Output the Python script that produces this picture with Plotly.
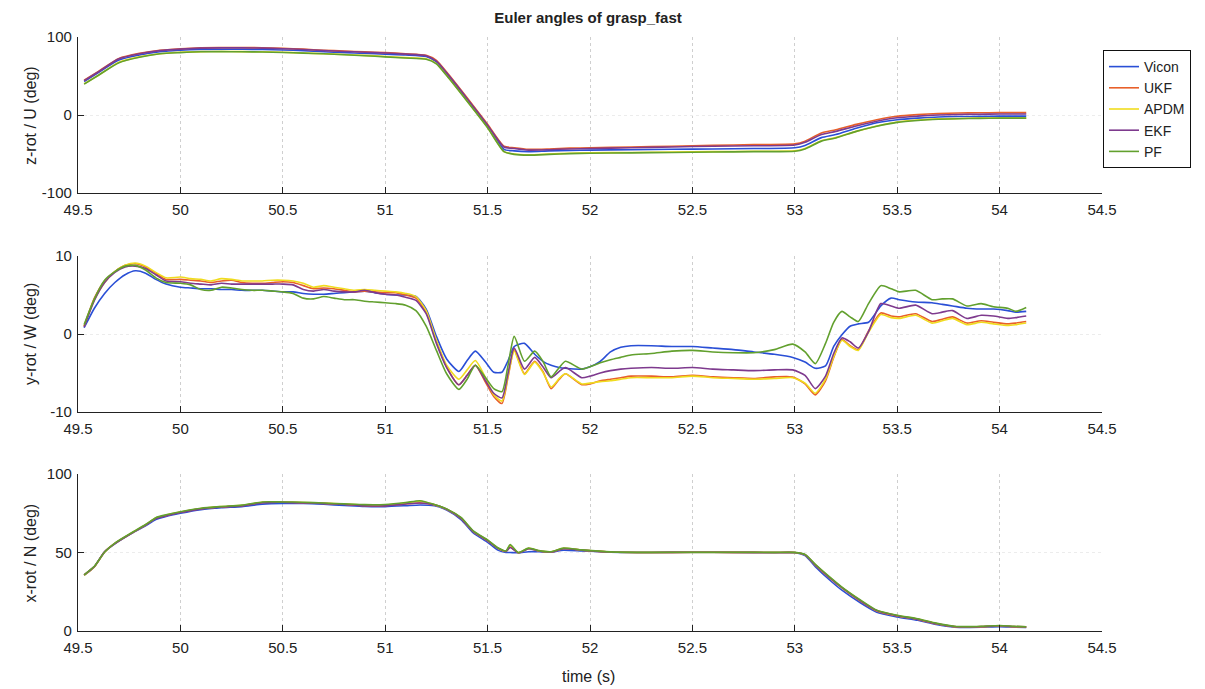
import plotly.graph_objects as go

SERIES = ["Vicon", "UKF", "APDM", "EKF", "PF"]
COLORS = ["#2a4fd6", "#e8602a", "#f0dc1e", "#7e3a8e", "#62a02e"]

# ---------------- z-rot / U ----------------
T_Z = [49.53, 49.6, 49.7, 49.8, 49.9, 50.0, 50.1, 50.2, 50.3, 50.4,
       50.5, 50.6, 50.7, 50.8, 50.9, 51.0, 51.1, 51.2, 51.25, 51.3,
       51.4, 51.5, 51.58, 51.63, 51.7, 51.8, 51.9, 52.0, 52.2, 52.4,
       52.6, 52.8, 53.0, 53.05, 53.13, 53.2, 53.3, 53.4, 53.5, 53.6,
       53.7, 53.8, 53.9, 54.0, 54.1, 54.13]
Z_VICON = [43, 54.5, 70.5, 77, 81, 83, 84, 84.3, 84.3, 84,
           83.3, 82.5, 81, 80, 79, 78, 77, 75, 68, 53,
           20, -14, -44, -46, -47, -46, -45.5, -45, -44.5, -44,
           -43.5, -43, -42, -39, -29, -25, -17, -10, -6, -4,
           -2.5, -2, -1.7, -1.5, -1.5, -1.5]
Z_UKF = [44.5, 56, 72.5, 79, 83, 85, 86.3, 86.5, 86.5, 86.3,
         85.5, 84.5, 83, 82, 81, 80, 78.5, 76.5, 70, 55,
         22, -12, -40, -42, -44, -43.5, -42.5, -42, -41, -40,
         -39, -38, -37, -33.5, -23, -19, -12, -6, -1.5, 0.5,
         1.8, 2.5, 2.8, 3, 3, 3]
Z_APDM = [40, 51, 67.5, 74.5, 78.5, 80.5, 81.3, 81.5, 81.3, 81,
          80.5, 79.5, 78.5, 77.5, 76.5, 75, 73.5, 72, 66, 51,
          18, -16, -47, -50, -51, -50, -49, -48.5, -48, -47.5,
          -47, -46.5, -46, -43, -33, -29, -21, -14, -9, -6.5,
          -5, -4.5, -4, -4, -4, -4]
Z_EKF = [44, 55.5, 72, 78.5, 82.5, 84.5, 85.7, 86, 86, 85.8,
         85, 84, 82.5, 81.5, 80.5, 79.5, 78, 76, 69, 54,
         21, -13, -41, -43, -45, -44.5, -43.5, -43, -42, -41,
         -40, -39.5, -38.5, -35, -25, -21, -14, -8, -3.5, -1.5,
         0, 0.7, 1, 1.2, 1.2, 1.2]
Z_PF = [39.5, 51, 67, 74, 78.5, 80, 81, 81.2, 81, 80.8,
        80.2, 79.3, 78.5, 77.2, 76, 74.5, 73, 71.5, 65.5, 50.5,
        17.5, -16.5, -47, -50.5, -51.5, -50.5, -49.5, -49, -48.5, -48,
        -47.5, -47, -46.5, -43.5, -33.5, -29.5, -21, -14.5, -9.5, -7,
        -5.5, -4.8, -4.3, -4, -4, -4]

# ---------------- y-rot / W ----------------
T_Y = [49.53, 49.58, 49.63, 49.68, 49.73, 49.78, 49.83, 49.88, 49.93, 50.0,
       50.05, 50.1, 50.15, 50.2, 50.25, 50.3, 50.35, 50.4, 50.45, 50.5,
       50.55, 50.6, 50.65, 50.7, 50.75, 50.8, 50.85, 50.9, 50.95, 51.0,
       51.05, 51.1, 51.15, 51.2, 51.25, 51.3, 51.36, 51.4, 51.44, 51.49,
       51.53, 51.57, 51.6, 51.63, 51.68, 51.73, 51.77, 51.81, 51.85, 51.88,
       51.96, 52.0, 52.05, 52.1, 52.15, 52.2, 52.3, 52.4, 52.5, 52.6,
       52.7, 52.8, 52.9, 52.99, 53.05, 53.1, 53.15, 53.19, 53.23, 53.27,
       53.31, 53.36, 53.42, 53.47, 53.51, 53.59, 53.67, 53.72, 53.77, 53.84,
       53.91, 53.97, 54.04, 54.08, 54.13]
Y_VICON = [0.8, 3.3, 5.2, 6.6, 7.6, 8.1, 7.8, 7.0, 6.4, 6.0,
           5.9, 5.8, 5.8, 5.7, 5.7, 5.6, 5.6, 5.6, 5.5, 5.4,
           5.4, 5.2, 5.1, 5.1, 5.2, 5.3, 5.4, 5.5, 5.3, 5.1,
           5.0, 5.0, 4.8, 3.2, -0.3, -3.2, -4.8, -3.4, -2.2, -3.6,
           -4.9, -4.9, -3.4, -1.6, -1.2, -2.6, -3.5, -4.0, -4.3, -4.4,
           -4.5, -4.2, -3.5, -2.3, -1.7, -1.5, -1.5, -1.6, -1.6, -1.8,
           -2.0, -2.3, -2.6, -3.0, -3.6, -4.4, -4.1, -1.6, -0.1, 1.0,
           1.3, 1.5, 3.6, 4.6, 4.4, 4.1, 4.0, 3.8, 3.6, 3.3,
           3.2, 3.2, 3.0, 2.8, 2.9]
Y_UKF = [1.0, 4.6, 6.8, 8.0, 8.8, 9.0, 8.6, 7.8, 7.0, 7.0,
         6.9, 6.8, 6.6, 6.8, 6.9, 6.6, 6.5, 6.5, 6.6, 6.7,
         6.6, 6.2, 5.8, 5.9, 5.8, 5.6, 5.4, 5.5, 5.4, 5.3,
         5.3, 5.0, 4.6, 2.8, -1.0, -4.2, -6.5, -5.3, -4.0, -6.2,
         -8.0, -8.9, -5.5, -2.0, -5.1, -3.5, -4.8, -7.0, -5.8, -5.1,
         -6.5, -6.4, -6.0, -5.8, -5.6, -5.4, -5.4, -5.5, -5.3, -5.5,
         -5.6, -5.7, -5.5, -5.5, -6.4, -7.8, -6.0, -3.0, -0.7, -1.5,
         -2.0, 0.4, 2.7, 2.3, 2.2, 2.6, 1.6, 1.9, 2.2, 1.4,
         1.7, 1.5, 1.3, 1.4, 1.6]
Y_APDM = [1.0, 4.4, 6.6, 8.0, 8.8, 9.1, 8.7, 7.9, 7.2, 7.3,
          7.1, 7.0, 6.8, 7.1, 7.0, 6.8, 6.8, 6.8, 6.9, 6.9,
          6.8, 6.5, 6.0, 6.2, 6.0, 5.8, 5.6, 5.7, 5.6, 5.5,
          5.4, 5.2, 4.8, 3.0, -0.8, -4.0, -5.8, -4.6, -3.4, -5.6,
          -7.8, -8.6, -5.3, -2.2, -5.2, -3.6, -4.9, -6.8, -5.7, -5.1,
          -6.4, -6.3, -6.1, -6.0, -5.8, -5.6, -5.6, -5.6, -5.4, -5.6,
          -5.7, -5.8, -5.7, -5.6, -6.3, -7.6, -5.8, -2.9, -0.8, -1.6,
          -2.1, 0.2, 2.5, 2.1, 2.0, 2.4, 1.4, 1.7, 2.0, 1.2,
          1.5, 1.3, 1.1, 1.2, 1.4]
Y_EKF = [0.9, 4.3, 6.6, 7.9, 8.6, 8.7, 8.4, 7.6, 6.8, 6.7,
         6.5, 6.4, 6.3, 6.5, 6.4, 6.4, 6.4, 6.4, 6.4, 6.4,
         6.3, 5.7, 5.5, 5.7, 5.5, 5.4, 5.4, 5.6, 5.3, 5.1,
         5.0, 4.7, 4.3, 2.6, -1.2, -4.3, -6.5, -5.3, -4.0, -6.0,
         -7.6, -8.2, -5.0, -1.8, -4.5, -3.0, -4.2, -5.6, -4.8, -4.3,
         -5.6, -5.4, -5.0, -4.7, -4.5, -4.4, -4.3, -4.4, -4.3, -4.5,
         -4.6, -4.7, -4.6, -4.6, -5.3, -7.0, -5.4, -2.5, -0.5, -1.0,
         -1.8, 0.3, 3.9, 3.6, 3.3, 3.7, 2.6, 2.8, 3.0, 2.0,
         2.4, 2.3, 2.0, 2.1, 2.3]
Y_PF = [1.2, 4.5, 6.9, 8.0, 8.7, 8.8, 8.2, 7.2, 6.6, 6.5,
        6.3, 5.7, 5.6, 6.0, 5.9, 5.7, 5.6, 5.6, 5.5, 5.4,
        5.2, 4.6, 4.5, 4.8, 4.6, 4.4, 4.4, 4.2, 4.1, 4.0,
        3.9, 3.7, 3.0, 1.0, -2.1, -5.1, -7.1, -5.8, -4.0, -5.6,
        -7.0, -7.4, -4.0, -0.3, -3.5, -2.2, -3.5, -5.5, -4.3, -3.5,
        -4.5, -4.2, -3.7, -3.3, -3.0, -2.7, -2.5, -2.2, -2.1, -2.3,
        -2.4, -2.4, -2.0, -1.3, -2.3, -3.8, -1.2, 1.5, 2.9, 2.2,
        1.6, 3.9, 6.2, 5.8, 5.4, 5.6, 4.4, 4.5, 4.5, 3.6,
        3.9, 3.5, 3.3, 2.9, 3.4]

# ---------------- x-rot / N ----------------
T_X = [49.53, 49.58, 49.63, 49.68, 49.76, 49.83, 49.88, 49.93, 50.0, 50.1,
       50.2, 50.3, 50.4, 50.5, 50.6, 50.7, 50.8, 50.9, 51.0, 51.1,
       51.17, 51.24, 51.3, 51.37, 51.43, 51.5, 51.55, 51.59, 51.61, 51.65,
       51.7, 51.75, 51.81, 51.87, 51.96, 52.1, 52.3, 52.5, 52.7, 52.9,
       53.0, 53.05, 53.1, 53.17, 53.23, 53.32, 53.4, 53.5, 53.6, 53.69,
       53.78, 53.85, 53.91, 54.0, 54.07, 54.13]
X_VICON = [35.5, 41, 50.5, 55.5, 62, 67, 71, 73, 75, 77.3,
           78.5, 79.2, 80.8, 81.3, 81.2, 80.7, 80, 79.3, 79.2, 79.8,
           80.3, 79.8, 77, 71, 62.5, 56.5, 51.5, 50, 50, 49.8,
           50.5, 50.5, 50.2, 51.5, 51, 50.2, 50, 50.1, 50, 49.8,
           49.8, 48, 41, 32.5, 26, 18, 12, 9, 6.8, 4.2,
           2.5, 2.3, 2.4, 2.8, 2.5, 2.3]
X_UKF = [35.7, 41, 50.5, 55.8, 62.2, 67.5, 71.8, 73.5, 75.6, 77.9,
         79, 79.8, 81.8, 82, 81.7, 81.3, 80.7, 79.8, 79.8, 81,
         81.5, 80.3, 77.5, 71.8, 63.3, 57.5, 52.7, 50.7, 53.5, 49.8,
         52.5, 51, 50.3, 52.5, 51.5, 50.3, 50, 50.2, 50.1, 50,
         50, 48.5, 42, 33.8, 27.4, 19, 12.7, 9.5, 7.4, 4.6,
         2.7, 2.5, 2.7, 3.2, 2.7, 2.5]
X_APDM = [35.5, 40.8, 50.1, 55.8, 62.2, 67.6, 72, 73.8, 75.8, 78,
          79.2, 80, 82, 82.1, 81.8, 81.4, 80.8, 80.2, 80.3, 81.5,
          82.6, 80.5, 77.6, 72, 63.5, 57.8, 52.8, 50.8, 54.6, 49.9,
          52.6, 51.1, 50.4, 52.6, 51.6, 50.3, 50, 50.1, 50.1, 50,
          50, 48.6, 42.3, 34.2, 27.7, 19.5, 13, 9.8, 7.6, 4.8,
          2.8, 2.6, 2.8, 3.3, 2.8, 2.6]
X_EKF = [35.7, 41, 50.4, 55.7, 62.1, 67.4, 71.6, 73.4, 75.5, 77.8,
         79, 79.7, 81.7, 82, 81.6, 81.2, 80.6, 79.8, 79.7, 80.9,
         81.5, 80.4, 77.6, 71.9, 63.4, 57.6, 52.8, 50.8, 53.2, 49.8,
         52.4, 51, 50.3, 52.4, 51.5, 50.3, 50, 50.2, 50.1, 50,
         50, 48.6, 42.2, 34, 27.6, 19.3, 13, 9.7, 7.5, 4.7,
         2.8, 2.6, 2.8, 3.3, 2.8, 2.6]
X_PF = [35.8, 41.2, 50.3, 56, 62.4, 67.8, 72.2, 74, 76, 78.2,
        79.3, 80.2, 82.2, 82.2, 82, 81.5, 81, 80.5, 80.6, 81.8,
        83, 80.6, 77.8, 72.3, 63.8, 58, 53, 51, 55, 50,
        52.8, 51.2, 50.5, 52.8, 51.7, 50.4, 50.1, 50.2, 50.2, 50.1,
        50.1, 48.8, 42.5, 34.5, 28, 19.8, 13.3, 10, 7.8, 5,
        3, 2.8, 3, 3.5, 3, 2.7]

X_TICKS = [49.5, 50, 50.5, 51, 51.5, 52, 52.5, 53, 53.5, 54, 54.5]
PANELS = [
    dict(t=T_Z, ys=[Z_VICON, Z_UKF, Z_APDM, Z_EKF, Z_PF], rng=[-100, 100],
         tv=[-100, 0, 100], tt=["-100", "0", "100"], label="z-rot / U (deg)"),
    dict(t=T_Y, ys=[Y_VICON, Y_UKF, Y_APDM, Y_EKF, Y_PF], rng=[-10, 10],
         tv=[-10, 0, 10], tt=["-10", "0", "10"], label="y-rot / W (deg)"),
    dict(t=T_X, ys=[X_VICON, X_UKF, X_APDM, X_EKF, X_PF], rng=[0, 100],
         tv=[0, 50, 100], tt=["0", "50", "100"], label="x-rot / N (deg)"),
]

W, H = 1205, 689
X0, X1 = 78, 1102
PANEL_PX = [(37, 193), (256, 412), (474, 631)]

fig = go.Figure()
FONT = "Liberation Sans, Arial, sans-serif"
layout = dict(
    width=W, height=H, margin=dict(l=0, r=0, t=0, b=0, autoexpand=False),
    paper_bgcolor="white", plot_bgcolor="white",
    font=dict(family=FONT, size=15, color="#222222"),
    showlegend=True,
    legend=dict(x=1103 / W, y=1 - 50 / H, xanchor="left", yanchor="top",
                bordercolor="#111111", borderwidth=1, bgcolor="white",
                font=dict(size=14, color="#222222"), tracegroupgap=0,
                itemwidth=30),
    title=dict(text="<b>Euler angles of grasp_fast</b>", x=588 / W, xanchor="center",
               y=1 - 18 / H, yanchor="middle", font=dict(size=15, color="#222222")),
    annotations=[],
)

for k, p in enumerate(PANELS):
    ax = "" if k == 0 else str(k + 1)
    top, bot = PANEL_PX[k]
    layout["xaxis" + ax] = dict(
        domain=[X0 / W, X1 / W], range=[49.5, 54.5], tickvals=X_TICKS,
        ticktext=[f"{v:g}" for v in X_TICKS], automargin=False,
        ticks="inside", ticklen=6, tickcolor="#222222", tickwidth=1.3,
        showline=True, linecolor="#222222", linewidth=1.3, mirror=False,
        showgrid=True, gridcolor="#cfcfcf", griddash="dot", gridwidth=1,
        zeroline=False, anchor="y" + ax, tickfont=dict(size=15),
        ticklabelstandoff=3,
    )
    layout["yaxis" + ax] = dict(
        domain=[1 - bot / H, 1 - top / H], range=p["rng"], tickvals=p["tv"],
        ticktext=p["tt"], ticks="inside", ticklen=6, tickcolor="#222222",
        tickwidth=1.3, showline=True, linecolor="#222222", linewidth=1.3,
        mirror=False, showgrid=True, gridcolor="#ececec", griddash="dot",
        zeroline=False, anchor="x" + ax, tickfont=dict(size=15),
        automargin=False, ticklabelstandoff=2,
    )
    layout["annotations"].append(dict(
        text=p["label"], xref="paper", yref="paper", x=30 / W,
        y=1 - (top + bot) / 2 / H, textangle=-90, showarrow=False,
        xanchor="center", yanchor="middle", font=dict(size=16, color="#222222")))
    for s, name in enumerate(SERIES):
        fig.add_trace(go.Scatter(
            x=p["t"], y=p["ys"][s], mode="lines", name=name,
            line=dict(color=COLORS[s], width=1.6, shape="spline", smoothing=0.6),
            xaxis="x" + ax, yaxis="y" + ax, showlegend=(k == 0)))

layout["annotations"].append(dict(
    text="time (s)", xref="paper", yref="paper", x=588 / W, y=1 - 676 / H,
    showarrow=False, xanchor="center", yanchor="middle",
    font=dict(size=16, color="#222222")))

fig.update_layout(**layout)
fig.write_html("out.html")
